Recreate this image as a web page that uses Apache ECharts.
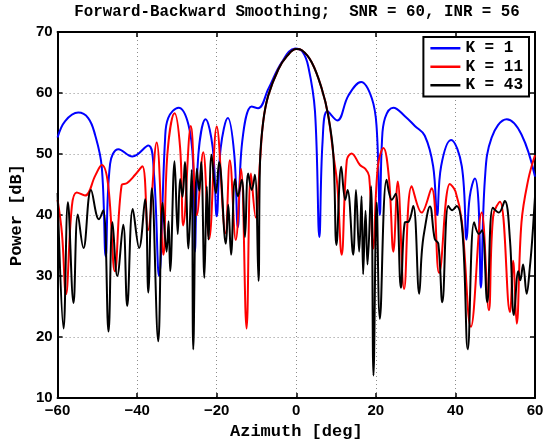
<!DOCTYPE html>
<html><head><meta charset="utf-8">
<script src="https://cdn.jsdelivr.net/npm/echarts@6/dist/echarts.min.js"></script>
<style>html,body{margin:0;padding:0;background:#fff}#c{width:551px;height:445px}</style>
</head><body><div id="c"></div>
<script>
const titleText = 'Forward-Backward Smoothing;  SNR = 60, INR = 56';
const xName = 'Azimuth [deg]';
const yName = 'Power [dB]';
const seriesNames = ['K = 1', 'K = 11', 'K = 43'];
const xTicks = [-60, -40, -20, 0, 20, 40, 60];
const yTicks = [10, 20, 30, 40, 50, 60, 70];

const k1 = [[-60,52.7],[-58.1,55.4],[-54.8,56.8],[-52.3,55.9],[-50.6,53.2],[-48.9,47.9],[-47.9,33.2],[-46.8,48.4],[-44.7,50.8],[-41.2,49.6],[-37.2,51.4],[-35.8,47],[-34.5,30],[-33,52.2],[-32.2,55.9],[-29.6,57.6],[-27.1,54.8],[-25.9,47.9],[-25.5,34],[-24.6,50],[-22.8,55.7],[-21,51],[-20,39.8],[-19,51],[-17.2,55.9],[-15.6,50],[-14.7,38],[-13.6,52],[-11.2,57.8],[-9.6,57.5],[-7,60.7],[-3.7,65],[-0.3,67.3],[1.5,66.8],[3.0,64.4],[4.7,57],[5.8,36.4],[6.6,52],[7.8,57],[10.3,55.5],[13.1,59.6],[16.3,61.8],[19,59.1],[20.2,54.3],[21,40],[21.5,51.6],[22.3,55.9],[24.4,57.6],[27.3,56.2],[29.8,54.6],[32.3,53],[34.4,48],[35.4,40],[36.4,48],[38.9,52.3],[41.6,48],[42.8,36],[43.6,43],[44.9,46],[45.8,42],[46.4,28.1],[47.4,45.8],[49.1,52.7],[52.9,55.7],[56.6,53.2],[60,46.3]];

const k11 = [[-60,42.5],[-58.9,37],[-57.9,27],[-56.4,41.5],[-55.2,43.7],[-53.1,43.2],[-50.5,46.5],[-48.9,48.2],[-47.3,45],[-45.6,30.8],[-43.9,44.9],[-42.6,45.2],[-40.5,46.6],[-38.7,48],[-37.3,37.5],[-35.1,51.9],[-33.4,33.5],[-32.4,50],[-30.6,56.7],[-29.2,51],[-28.4,38.3],[-26.5,54.6],[-25,40],[-23.4,50.3],[-21.9,36.1],[-20,54.5],[-17.8,37],[-16.7,49],[-15.2,35.9],[-13.9,47.6],[-12.5,21.4],[-11.4,46.8],[-10.2,39.6],[-9.1,49],[-8.3,55.4],[-7.05,59.6],[-4.5,63.9],[-2.4,66],[0,67.2],[1.4,67],[3.9,65],[6.4,60.7],[8.0,56.4],[9.3,50],[10.3,45],[11.4,33.5],[12.7,49],[13.9,50.1],[16,48.2],[17.3,47.6],[18.3,46.4],[19.3,34.5],[20.5,48],[21.9,51],[23.3,46],[24.4,34],[25.5,45.5],[27.1,27.9],[29,44.7],[31.5,40.4],[34,44.4],[35.9,30.5],[38.6,45.1],[40,43.9],[41.6,39],[43.9,21.7],[46.6,40.4],[48.4,24.4],[49.5,39.9],[51.2,42.2],[53.7,24.1],[54.5,32.5],[55.4,22.2],[56.6,38.8],[58.3,45.8],[60,49.8]];

const k43 = [[-60,43.6],[-58.5,21.4],[-57.4,42.1],[-56,25.6],[-54.9,40.1],[-53.5,34.6],[-51.6,44.1],[-49.6,39.3],[-48.5,40.8],[-47.2,20.9],[-46.2,38.8],[-45,30],[-43.5,38.4],[-42.5,25.1],[-41.1,41],[-39.5,34.6],[-38,42.6],[-37.2,27.3],[-36.3,44.4],[-34.7,19.3],[-33.6,42],[-32.6,34],[-32.1,39],[-31.7,30.8],[-30.6,48.8],[-29.8,36.9],[-29.2,45.9],[-28.6,43],[-28,48.7],[-27.1,34.5],[-26.3,47.4],[-25.9,18],[-25,47.6],[-24.4,44],[-23.9,48.7],[-23.1,29.7],[-22.5,44.7],[-22.1,36],[-21.3,49.9],[-20.2,43.6],[-19.4,48.7],[-17.7,35.3],[-17.1,41.7],[-16.4,33.5],[-15.4,45.9],[-14.7,43.1],[-13.7,45.8],[-12.9,36.4],[-12.1,46.8],[-11.2,44.1],[-10.4,46.6],[-9.5,29.2],[-9.1,49],[-8.3,55.4],[-7.05,59.6],[-4.5,63.9],[-2.4,66],[0,67.2],[1.4,67],[3.9,65],[6.4,60.7],[8.0,56.4],[9.3,50],[10.1,35.1],[11.3,47.9],[12.3,42.5],[12.9,44.1],[14.3,33.5],[15,44.1],[15.8,34],[16.4,43.1],[16.8,30.3],[17.4,40.7],[17.9,31.9],[18.8,44.7],[19.4,13.7],[20.2,42.1],[21,23],[22.7,45.8],[24,42.5],[25,43.5],[26.3,28.1],[27.3,38.8],[28.2,38.9],[29.4,41.5],[30.9,27.1],[31.5,33.5],[32.1,37],[33.6,41.4],[34.8,36.1],[35.7,35.3],[36.7,25.7],[38.2,41.5],[39.2,40.8],[40.3,41.5],[41.8,37],[43.1,18],[44.7,38.8],[45.9,36.9],[46.7,37.5],[48,25.7],[49.4,41.2],[50.9,40.4],[52.4,42.3],[53.7,36],[54.7,23.6],[55.8,30.8],[56.3,29.3],[57,31.9],[57.9,27.1],[58.7,31.4],[59.3,36],[60,43]];

const colors = ['#0000ff', '#ff0000', '#000000'];
const dataSets = [k1, k11, k43];

const chart = echarts.init(document.getElementById('c'), null, {renderer: 'canvas'});
const monoBold = {fontFamily: '"Liberation Mono", "DejaVu Sans Mono", monospace', fontWeight: 'bold', color: '#000'};
const fmt = v => v < 0 ? '\u2212' + Math.abs(v) : String(v);
const gridLine = {show: true, lineStyle: {color: '#8c8c8c', type: [1, 3], width: 1}};
const tick = {show: true, inside: true, length: 5, lineStyle: {color: '#000', width: 1.5}};
const axLine = {show: true, onZero: false, lineStyle: {color: '#000', width: 2}};

chart.setOption({
  animation: false,
  backgroundColor: '#fff',
  grid: {left: 57.5, right: 16, top: 32, bottom: 39, containLabel: false},
  graphic: [{type: 'text', x: 297, y: 12, style: {text: titleText, textAlign: 'center', textVerticalAlign: 'middle', font: 'bold 15.8px "Liberation Mono"', fill: '#000'}}],
  legend: {
    orient: 'vertical', right: 22, top: 37,
    data: seriesNames, icon: 'rect',
    itemWidth: 30, itemHeight: 2.5, itemGap: 2,
    padding: [3, 6, 3, 7],
    borderColor: '#000', borderWidth: 2, backgroundColor: '#fff',
    textStyle: Object.assign({fontSize: 16, lineHeight: 16.5}, monoBold)
  },
  xAxis: [
    {type: 'value', min: xTicks[0], max: xTicks[xTicks.length - 1], interval: 20, position: 'bottom',
     name: xName, nameLocation: 'middle', nameGap: 19, nameTextStyle: Object.assign({fontSize: 17}, monoBold),
     axisLine: axLine, axisTick: tick, splitLine: gridLine,
     axisLabel: {formatter: fmt, fontFamily: '"Liberation Sans", Arial', fontWeight: 'bold', fontSize: 15, color: '#000', margin: 5}},
    {type: 'value', min: xTicks[0], max: xTicks[xTicks.length - 1], interval: 20, position: 'top',
     axisLine: axLine, axisTick: tick, splitLine: {show: false}, axisLabel: {show: false}}
  ],
  yAxis: [
    {type: 'value', min: yTicks[0], max: yTicks[yTicks.length - 1], interval: 10, position: 'left',
     name: yName, nameLocation: 'middle', nameGap: 29, nameTextStyle: Object.assign({fontSize: 17}, monoBold),
     axisLine: axLine, axisTick: tick, splitLine: gridLine,
     axisLabel: {formatter: fmt, fontFamily: '"Liberation Sans", Arial', fontWeight: 'bold', fontSize: 15, color: '#000', margin: 5}},
    {type: 'value', min: yTicks[0], max: yTicks[yTicks.length - 1], interval: 10, position: 'right',
     axisLine: axLine, axisTick: tick, splitLine: {show: false}, axisLabel: {show: false}}
  ],
  series: seriesNames.map((n, i) => ({
    name: n, type: 'line', xAxisIndex: 0, yAxisIndex: 0,
    data: dataSets[i], symbol: 'none', smooth: 0.4,
    lineStyle: {color: colors[i], width: 2}, itemStyle: {color: colors[i]},
    z: 2 + i
  }))
});
</script></body></html>
